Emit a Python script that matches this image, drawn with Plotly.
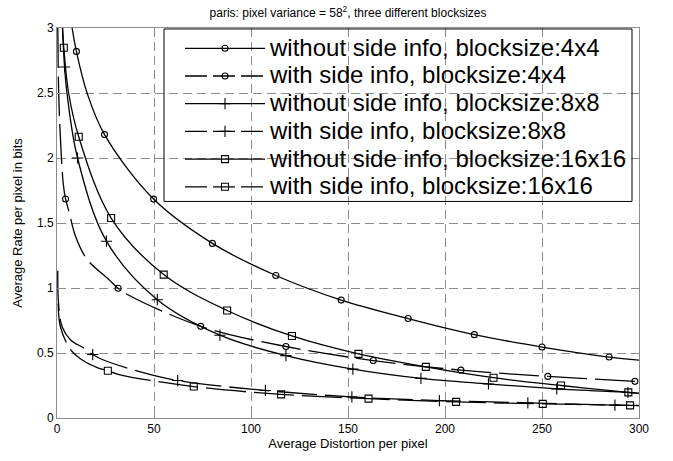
import plotly.graph_objects as go

# ---------------- data ----------------
x_ticks = [0, 50, 100, 150, 200, 250, 300]
y_ticks = [0, 0.5, 1, 1.5, 2, 2.5, 3]

names = [
    "without side info, blocksize:4x4",
    "with side info, blocksize:4x4",
    "without side info, blocksize:8x8",
    "with side info, blocksize:8x8",
    "without side info, blocksize:16x16",
    "with side info, blocksize:16x16",
]

# 4x4 without side info
s1_x = [7.8, 10.0, 15.5, 24.5, 49.8, 80.1, 112.8, 146.5, 181.0, 215.1, 250.0, 284.6, 300.0]
s1_y = [3.0, 2.82, 2.5, 2.18, 1.684, 1.343, 1.096, 0.907, 0.765, 0.641, 0.546, 0.469, 0.445]
s1_mx = [10.0, 24.5, 49.8, 80.1, 112.8, 146.5, 181.0, 215.1, 250.0, 284.6]
s1_my = [2.82, 2.18, 1.684, 1.343, 1.096, 0.907, 0.765, 0.641, 0.546, 0.469]

# 4x4 with side info
s2_x = [0.4, 0.9, 2.0, 3.2, 4.4, 6.1, 9.5, 15.5, 26.7, 31.5, 36.3, 74.1, 118.0, 163.0, 208.2, 253.0, 297.9, 300.0]
s2_y = [3.0, 2.48, 2.08, 1.806, 1.685, 1.593, 1.40, 1.22, 1.066, 0.998, 0.95, 0.705, 0.55, 0.442, 0.368, 0.32, 0.282, 0.28]
s2_mx = [4.4, 31.5, 74.1, 118.0, 163.0, 208.2, 253.0, 297.9]
s2_my = [1.685, 0.998, 0.705, 0.55, 0.442, 0.368, 0.32, 0.282]

# 8x8 without side info
s3_x = [2.8, 3.9, 5.3, 10.6, 25.5, 51.7, 84.0, 118.0, 152.5, 187.6, 222.4, 257.6, 294.3, 300.0]
s3_y = [3.0, 2.70, 2.48, 2.0, 1.36, 0.91, 0.637, 0.48, 0.376, 0.305, 0.262, 0.224, 0.196, 0.19]
s3_mx = [3.9, 10.6, 25.5, 51.7, 84.0, 118.0, 152.5, 187.6, 222.4, 257.6, 294.3]
s3_my = [2.70, 2.0, 1.36, 0.91, 0.637, 0.48, 0.376, 0.305, 0.262, 0.224, 0.196]

# 8x8 with side info
s4_x = [0.4, 0.8, 2.7, 7.0, 13.8, 18.4, 23.3, 43.0, 62.2, 107.4, 152.0, 197.1, 242.7, 287.6, 300.0]
s4_y = [1.133, 0.877, 0.70, 0.60, 0.538, 0.488, 0.45, 0.355, 0.288, 0.212, 0.162, 0.134, 0.117, 0.099, 0.096]
s4_mx = [18.4, 62.2, 107.4, 152.0, 197.1, 242.7, 287.6]
s4_my = [0.488, 0.288, 0.212, 0.162, 0.134, 0.117, 0.099]

# 16x16 without side info
s5_x = [2.9, 3.5, 6.0, 11.2, 27.9, 55.0, 87.7, 121.1, 155.4, 190.1, 225.0, 259.8, 294.5, 300.0]
s5_y = [3.0, 2.848, 2.5, 2.163, 1.538, 1.103, 0.827, 0.631, 0.493, 0.393, 0.31, 0.25, 0.197, 0.19]
s5_mx = [3.5, 11.2, 27.9, 55.0, 87.7, 121.1, 155.4, 190.1, 225.0, 259.8, 294.5]
s5_my = [2.848, 2.163, 1.538, 1.103, 0.827, 0.631, 0.493, 0.393, 0.31, 0.25, 0.197]

# 16x16 with side info
s6_x = [0.6, 1.8, 7.0, 13.8, 20.7, 26.2, 32.0, 70.5, 115.5, 160.6, 205.7, 250.4, 295.4, 300.0]
s6_y = [0.88, 0.70, 0.526, 0.438, 0.388, 0.363, 0.334, 0.242, 0.182, 0.149, 0.124, 0.109, 0.097, 0.095]
s6_mx = [26.2, 70.5, 115.5, 160.6, 205.7, 250.4, 295.4]
s6_my = [0.363, 0.242, 0.182, 0.149, 0.124, 0.109, 0.097]

# ---------------- styling ----------------
FONT = "Liberation Sans"
DASH = "40px,8px"
series = [
    (s1_x, s1_y, s1_mx, s1_my, "solid", "circle-open", 6),
    (s2_x, s2_y, s2_mx, s2_my, DASH, "circle-open", 6),
    (s3_x, s3_y, s3_mx, s3_my, "solid", "cross-thin", 8),
    (s4_x, s4_y, s4_mx, s4_my, DASH, "cross-thin", 8),
    (s5_x, s5_y, s5_mx, s5_my, "solid", "square-open", 7),
    (s6_x, s6_y, s6_mx, s6_my, DASH, "square-open", 7),
]

fig = go.Figure()
for (lx, ly, mx, my, dash, sym, size), name in zip(series, names):
    fig.add_trace(go.Scatter(
        x=lx, y=ly, mode="lines", line=dict(color="black", width=1.3, dash=dash, shape="spline"),
        showlegend=False, hoverinfo="skip"))
    fig.add_trace(go.Scatter(
        x=mx, y=my, mode="markers",
        marker=dict(symbol=sym, size=size, color="black", line=dict(color="black", width=1.1)),
        showlegend=False))
    # legend entry
    fig.add_trace(go.Scatter(
        x=[None], y=[None], mode="lines+markers", name=f'<span style="font-size:24px">{name}</span>',
        line=dict(color="black", width=1.3, dash="solid" if dash == "solid" else "22px,6px"),
        marker=dict(symbol=sym, size=size, color="black", line=dict(color="black", width=1.1))))

W, H = 673, 461
ML, MR, MT, MB = 57, 34, 28, 35
PW, PH = W - ML - MR, H - MT - MB

def px_x(p):
    return (p - ML) / PW

def px_y(p):
    return (H - MB - p) / PH

axis_common = dict(
    showgrid=True, gridcolor="#8c8c8c", gridwidth=1, griddash="9px,5px",
    zeroline=False, showline=True, linecolor="#8c8c8c", linewidth=1, mirror="ticks",
    ticks="inside", ticklen=4, tickcolor="#8c8c8c",
    tickfont=dict(family=FONT, size=12, color="black"),
)

fig.update_layout(
    width=W, height=H,
    margin=dict(l=ML, r=MR, t=MT, b=MB, pad=0),
    paper_bgcolor="white", plot_bgcolor="white",
    font=dict(family=FONT, color="black"),
    title=dict(text="paris: pixel variance = 58<sup>2</sup>, three different blocksizes",
               x=0.5, xref="paper", xanchor="center", y=1 - 13 / H, yanchor="middle",
               font=dict(family=FONT, size=12, color="black")),
    xaxis=dict(range=[0, 300], tickvals=x_ticks, ticktext=[str(v) for v in x_ticks],
               title=dict(text="Average Distortion per pixel", font=dict(family=FONT, size=13), standoff=3),
               **axis_common),
    yaxis=dict(range=[0, 3], tickvals=y_ticks, ticktext=[f"{v:g}" for v in y_ticks],
               title=dict(text="Average Rate per pixel in bits", font=dict(family=FONT, size=13), standoff=11),
               **axis_common),
    legend=dict(x=px_x(180), y=px_y(29.5), xanchor="left", yanchor="top",
                bgcolor="rgba(0,0,0,0)", borderwidth=0, itemwidth=80,
                font=dict(family=FONT, size=19, color="black"), tracegroupgap=0),
    shapes=[dict(type="rect", xref="paper", yref="paper",
                 x0=px_x(164), x1=px_x(632), y0=px_y(205), y1=px_y(29),
                 line=dict(color="black", width=1), fillcolor="rgba(0,0,0,0)", layer="above")],
)

fig.write_html("out.html")
